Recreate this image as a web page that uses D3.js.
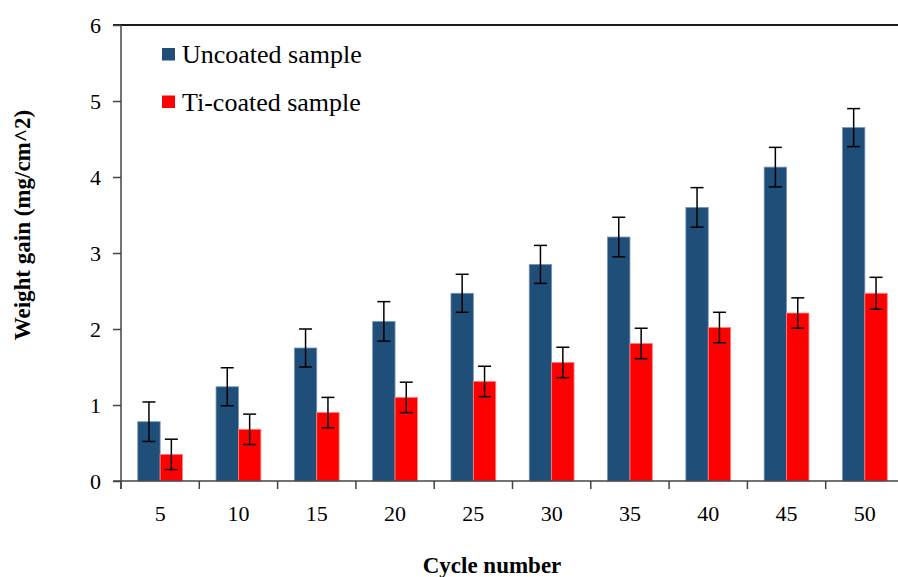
<!DOCTYPE html>
<html>
<head>
<meta charset="utf-8">
<script src="https://cdn.jsdelivr.net/npm/d3@7"></script>
<style>
  html, body { margin: 0; padding: 0; background: #fff; }
  svg { display: block; }
  text { font-family: "Liberation Serif", "Times New Roman", serif; fill: #000; }
</style>
</head>
<body>
<svg id="chart" width="898" height="577"></svg>
<script>
// ---- data ----
const categories = ["5", "10", "15", "20", "25", "30", "35", "40", "45", "50"];
const seriesNames = ["Uncoated sample", "Ti-coated sample"];
const uncoated = [0.78, 1.24, 1.75, 2.10, 2.47, 2.85, 3.21, 3.60, 4.13, 4.65];
const uncoatedErr = [0.26, 0.25, 0.25, 0.26, 0.25, 0.25, 0.26, 0.26, 0.26, 0.25];
const tiCoated = [0.35, 0.68, 0.90, 1.10, 1.31, 1.56, 1.81, 2.02, 2.21, 2.47];
const tiCoatedErr = [0.20, 0.20, 0.20, 0.20, 0.20, 0.20, 0.20, 0.20, 0.20, 0.21];
const yTicks = [0, 1, 2, 3, 4, 5, 6];
const colors = ["#1F4E79", "#FF0000"];
const strokes = ["#7896b8", "#ff8080"];

const rows = categories.map((c, i) => ({
  cat: c,
  vals: [
    { s: seriesNames[0], v: uncoated[i], e: uncoatedErr[i], k: 0 },
    { s: seriesNames[1], v: tiCoated[i], e: tiCoatedErr[i], k: 1 }
  ]
}));

const svg = d3.select("#chart");
const mLeft = 121, mRight = 904, mTop = 25, mBottom = 481;

const x0 = d3.scaleBand().domain(categories).range([mLeft, mRight]).padding(0);
const bw = x0.bandwidth();
const x1 = d3.scaleBand().domain(seriesNames).range([bw * 0.214, bw * 0.786]).padding(0);
const y = d3.scaleLinear().domain([0, 6]).range([mBottom, mTop]);

// top border line
svg.append("line")
  .attr("x1", mLeft - 8).attr("x2", 898)
  .attr("y1", y(6)).attr("y2", y(6))
  .attr("stroke", "#1a1a1a").attr("stroke-width", 2);

// bars
const g = svg.append("g");
const groups = g.selectAll("g.cat").data(rows).enter().append("g")
  .attr("transform", d => `translate(${x0(d.cat)},0)`);

groups.selectAll("rect").data(d => d.vals).enter().append("rect")
  .attr("x", d => x1(d.s))
  .attr("width", x1.bandwidth())
  .attr("y", d => y(d.v))
  .attr("height", d => y(0) - y(d.v))
  .attr("fill", d => colors[d.k])
  .attr("stroke", d => strokes[d.k])
  .attr("stroke-width", 0.8);

// error bars
const eb = groups.selectAll("g.err").data(d => d.vals).enter().append("g")
  .attr("stroke", "#000").attr("stroke-width", 1.5);
eb.append("line")
  .attr("x1", d => x1(d.s) + x1.bandwidth() / 2)
  .attr("x2", d => x1(d.s) + x1.bandwidth() / 2)
  .attr("y1", d => y(d.v + d.e))
  .attr("y2", d => y(d.v - d.e));
eb.append("line")
  .attr("x1", d => x1(d.s) + x1.bandwidth() / 2 - 6.5)
  .attr("x2", d => x1(d.s) + x1.bandwidth() / 2 + 6.5)
  .attr("y1", d => y(d.v + d.e)).attr("y2", d => y(d.v + d.e));
eb.append("line")
  .attr("x1", d => x1(d.s) + x1.bandwidth() / 2 - 6.5)
  .attr("x2", d => x1(d.s) + x1.bandwidth() / 2 + 6.5)
  .attr("y1", d => y(d.v - d.e)).attr("y2", d => y(d.v - d.e));

// y axis
const yAxis = svg.append("g")
  .attr("transform", `translate(${mLeft},0)`)
  .call(d3.axisLeft(y).tickValues(yTicks).tickFormat(d3.format("d")).tickSize(8).tickPadding(12));
yAxis.select(".domain").remove();
yAxis.selectAll(".tick line").attr("stroke", "#444").attr("stroke-width", 1.5);
yAxis.selectAll(".tick text")
  .style("font-family", "Liberation Serif")
  .style("font-size", "22px")
  .attr("fill", "#000");
svg.append("line")
  .attr("x1", mLeft).attr("x2", mLeft)
  .attr("y1", y(6)).attr("y2", mBottom + 8)
  .attr("stroke", "#444").attr("stroke-width", 1.5);

// x axis
svg.append("line")
  .attr("x1", mLeft - 8).attr("x2", 898)
  .attr("y1", mBottom).attr("y2", mBottom)
  .attr("stroke", "#444").attr("stroke-width", 1.5);
svg.append("g").selectAll("line").data(categories).enter().append("line")
  .attr("x1", d => x0(d)).attr("x2", d => x0(d))
  .attr("y1", mBottom).attr("y2", mBottom + 8)
  .attr("stroke", "#444").attr("stroke-width", 1.5);
svg.append("g").selectAll("text").data(categories).enter().append("text")
  .attr("x", d => x0(d) + bw / 2)
  .attr("y", 521)
  .attr("text-anchor", "middle")
  .style("font-size", "22px")
  .text(d => d);

// axis titles
svg.append("text")
  .attr("x", 492).attr("y", 573)
  .attr("text-anchor", "middle")
  .style("font-size", "23px").style("font-weight", "bold")
  .text("Cycle number");
svg.append("text")
  .attr("transform", "translate(30,225) rotate(-90)")
  .attr("text-anchor", "middle")
  .style("font-size", "23px").style("font-weight", "bold")
  .text("Weight gain (mg/cm^2)");

// legend
const leg = svg.append("g").selectAll("g").data(seriesNames).enter().append("g")
  .attr("transform", (d, i) => `translate(162,${48 + i * 47.5})`);
leg.append("rect")
  .attr("width", 13).attr("height", 12.5)
  .attr("fill", (d, i) => colors[i]);
leg.append("text")
  .attr("x", 20).attr("y", 15)
  .style("font-size", "26px")
  .text(d => d);
</script>
</body>
</html>
